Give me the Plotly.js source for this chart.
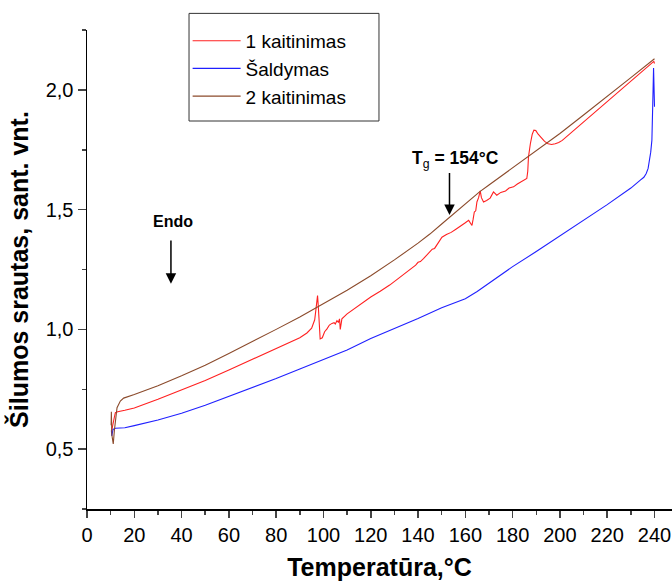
<!DOCTYPE html>
<html>
<head>
<meta charset="utf-8">
<script src="https://cdn.plot.ly/plotly-3.0.1.min.js"></script>
<style>html,body{margin:0;padding:0;background:#fff;}#chart{width:672px;height:582px;}</style>
</head>
<body>
<div id="chart"></div>
<script>
// 1 kaitinimas (first heating)
const heat1X = [10.4,10.8,11.5,12.0,13.0,16,20,30,40,50,60,70,80,85,90,93,95,96.3,97.0,97.5,97.8,98.2,98.6,99.5,100.5,101.5,102.5,103.6,104.5,105.0,105.7,106.3,106.8,107.1,107.5,107.8,110,115,120,124,128,132,135,137,139,140,141,142.3,144,146,147,148,150.1,152,154,156,158,160,161.4,162.3,162.8,163.3,163.8,164.4,164.9,165.6,166.3,166.8,167.7,169,170.5,171.9,173.3,175,177,178.5,180.4,182,184,186,186.4,186.7,187.5,188.3,189,189.8,190.8,192,193.5,195,196.5,198,199.5,201,205,210,215,220,225,230,235,239.7,240];
const heat1Y = [0.575,0.60,0.63,0.652,0.656,0.662,0.672,0.708,0.747,0.787,0.830,0.875,0.920,0.942,0.965,0.985,1.005,1.04,1.09,1.141,1.10,1.00,0.960,0.965,0.99,1.002,1.018,1.025,1.028,1.022,1.036,1.030,1.044,1.000,1.02,1.044,1.065,1.101,1.135,1.159,1.185,1.215,1.238,1.250,1.268,1.280,1.283,1.295,1.315,1.335,1.338,1.355,1.385,1.396,1.405,1.418,1.430,1.445,1.455,1.44,1.434,1.46,1.49,1.495,1.532,1.55,1.578,1.55,1.532,1.538,1.548,1.574,1.56,1.572,1.578,1.59,1.595,1.607,1.618,1.630,1.66,1.72,1.775,1.815,1.832,1.83,1.815,1.80,1.785,1.775,1.772,1.775,1.780,1.789,1.823,1.866,1.908,1.951,1.994,2.036,2.079,2.119,2.11];

// Šaldymas (cooling)
const coolX = [240,239.8,239.6,239.4,238.9,238.4,237.9,237.3,236.5,235.5,234,230,220,210,200,190,180,170,165,160,155,150,140,130,124,120,110,100,90,80,70,60,50,40,30,20,16,12,11,10.5,10.3];
const coolY = [1.93,2.0,2.091,2.0,1.79,1.74,1.707,1.672,1.651,1.635,1.623,1.590,1.521,1.455,1.390,1.325,1.262,1.192,1.158,1.128,1.108,1.090,1.045,1.005,0.980,0.962,0.914,0.873,0.835,0.795,0.757,0.718,0.683,0.650,0.622,0.598,0.589,0.587,0.582,0.555,0.578];

// 2 kaitinimas (second heating)
const heat2X = [10.2,10.3,10.5,11.1,11.6,12.7,14.1,15.5,20,30,40,50,60,70,80,90,100,110,120,130,140,145,150,155,160,163,166,170,180,190,200,210,220,230,240];
const heat2Y = [0.60,0.656,0.56,0.522,0.58,0.673,0.701,0.713,0.728,0.765,0.806,0.850,0.899,0.948,1.000,1.052,1.106,1.163,1.224,1.290,1.360,1.398,1.440,1.483,1.524,1.548,1.574,1.603,1.674,1.746,1.818,1.895,1.972,2.051,2.130];

const seriesNames = ['1 kaitinimas', 'Šaldymas', '2 kaitinimas'];
const xTitle = 'Temperatūra,°C';
const yTitle = 'Šilumos srautas, sant. vnt.';

const FONT = 'Liberation Sans, Arial, sans-serif';

const traces = [
  {x: heat1X, y: heat1Y, name: seriesNames[0], mode: 'lines', line: {color: '#ff2020', width: 1.1}},
  {x: coolX, y: coolY, name: seriesNames[1], mode: 'lines', line: {color: '#2020ff', width: 1.1}},
  {x: heat2X, y: heat2Y, name: seriesNames[2], mode: 'lines', line: {color: '#8b4a2b', width: 1.1}}
];

const layout = {
  width: 672, height: 582,
  margin: {l: 87, r: 0, t: 30, b: 73},
  paper_bgcolor: '#ffffff', plot_bgcolor: '#ffffff',
  separators: ', ',
  font: {family: FONT, color: '#000', size: 20},
  showlegend: true,
  legend: {
    x: 0.172, y: 1.017, xanchor: 'left', yanchor: 'top',
    bgcolor: 'rgba(0,0,0,0)', borderwidth: 0,
    font: {family: FONT, size: 19, color: '#000'},
    tracegroupgap: 0, itemwidth: 48
  },
  shapes: [
    {type: 'rect', xref: 'paper', yref: 'paper', x0: 0.1744, x1: 0.4991, y0: 0.810, y1: 1.0347,
     line: {color: '#333', width: 1}, fillcolor: 'rgba(0,0,0,0)'}
  ],
  xaxis: {
    range: [0, 247.4], tick0: 0, dtick: 20, ticks: 'outside', ticklen: 7, tickwidth: 1.5,
    minor: {dtick: 10, ticks: 'outside', ticklen: 4, tickwidth: 1.5},
    showline: true, linecolor: '#000', linewidth: 1.5, showgrid: false, zeroline: false,
    tickfont: {family: FONT, size: 20, color: '#000'},
    title: {text: '<b>' + xTitle + '</b>', font: {family: FONT, size: 25, color: '#000'}, standoff: 14}
  },
  yaxis: {
    range: [0.25, 2.25], tick0: 0, dtick: 0.5, tickformat: '.1f', ticks: 'outside', ticklen: 8, tickwidth: 1.5,
    minor: {dtick: 0.25, ticks: 'outside', ticklen: 4, tickwidth: 1.5},
    showline: true, linecolor: '#000', linewidth: 1.5, showgrid: false, zeroline: false,
    tickfont: {family: FONT, size: 20, color: '#000'},
    title: {text: '<b>' + yTitle + '</b>', font: {family: FONT, size: 25, color: '#000'}, standoff: 10}
  },
  annotations: [
    {x: 36.5, y: 1.451, xref: 'x', yref: 'y', text: '<b>Endo</b>', showarrow: false,
     font: {family: FONT, size: 16, color: '#000'}},
    {x: 35.5, y: 1.191, ax: 35.5, ay: 1.377, xref: 'x', yref: 'y', axref: 'x', ayref: 'y',
     text: '', showarrow: true, arrowhead: 2, arrowsize: 1.4, arrowwidth: 1.5, arrowcolor: '#000'},
    {x: 156, y: 1.708, xref: 'x', yref: 'y', text: '<b>T</b><sub>g</sub><b> = 154°C</b>', showarrow: false,
     font: {family: FONT, size: 17.5, color: '#000'}},
    {x: 153.3, y: 1.478, ax: 153.3, ay: 1.659, xref: 'x', yref: 'y', axref: 'x', ayref: 'y',
     text: '', showarrow: true, arrowhead: 2, arrowsize: 1.4, arrowwidth: 1.5, arrowcolor: '#000'}
  ]
};

Plotly.newPlot('chart', traces, layout, {displayModeBar: false, staticPlot: true});
</script>
</body>
</html>
